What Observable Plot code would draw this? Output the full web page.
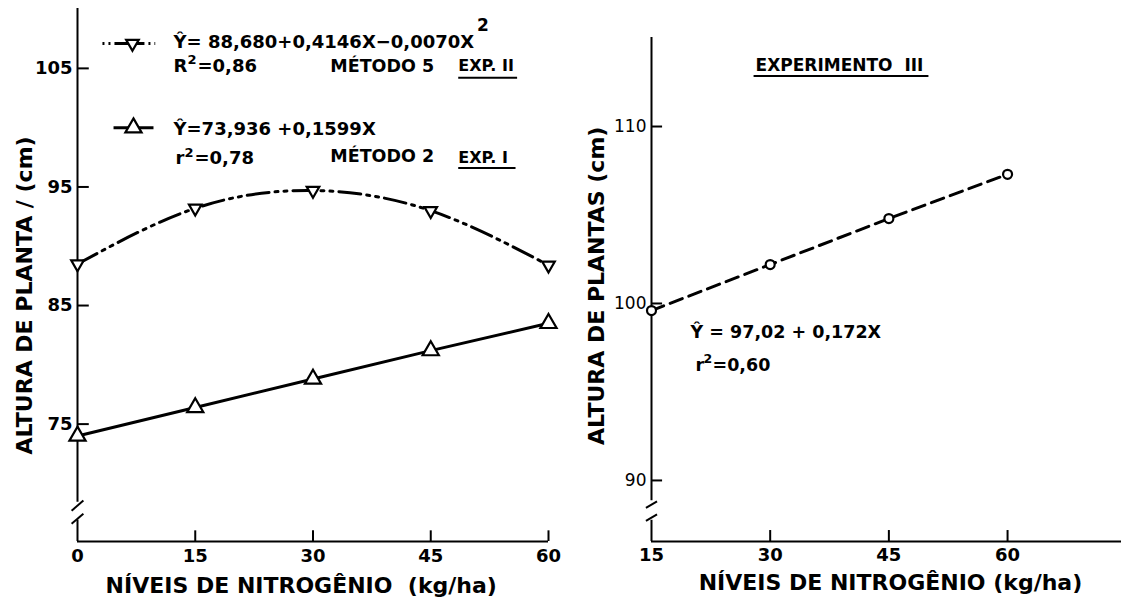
<!DOCTYPE html>
<html><head><meta charset="utf-8">
<script src="https://cdn.jsdelivr.net/npm/d3@7"></script>
<script src="https://cdn.jsdelivr.net/npm/@observablehq/plot@0.6"></script>
<style>
body{margin:0;background:#fff;}
#wrap{position:relative;width:1121px;height:604px;overflow:hidden;background:#fff;}
#left,#right{position:absolute;top:0;}
#left{left:0;} #right{left:560px;}
</style></head><body><div id="wrap"><div id="left"></div><div id="right"></div></div>
<script>
// ---- data ----
const nitrogenio = [0, 15, 30, 45, 60];
const alturaExpII = [88.5, 93.2, 94.7, 93.0, 88.4];   // Método 5 (▽)
const alturaExpI = [74.0, 76.4, 78.8, 81.2, 83.5];    // Método 2 (△)
const nitrogenioExpIII = [15, 30, 45, 60];
const alturaExpIII = [99.6, 102.2, 104.8, 107.3];     // Experimento III (○)
const leftXTicks = [0, 15, 30, 45, 60];
const leftYTicks = [75, 85, 95, 105];
const rightXTicks = [15, 30, 45, 60];
const rightYTicks = [90, 100, 110];

const expII = nitrogenio.map((n, i) => ({n, h: alturaExpII[i]}));
const expI = nitrogenio.map((n, i) => ({n, h: alturaExpI[i]}));
const expIII = nitrogenioExpIII.map((n, i) => ({n, h: alturaExpIII[i]}));

const FONT = "'DejaVu Sans', sans-serif";
const triangleDown = {
  draw(context, size) {
    const s = Math.sqrt(size) * 0.6824, t = s / 2, u = s * Math.sqrt(3) / 2;
    context.moveTo(0, s); context.lineTo(u, -t); context.lineTo(-u, -t); context.closePath();
  }
};
const B = {textAnchor: "start", fontWeight: "bold", fontSize: 18};

// ---- left panel ----
const L = {x0: 0, x1: 60, yb: 65.1, yt: 110.05};
const left = Plot.plot({
  width: 560, height: 604,
  marginLeft: 77, marginRight: 12, marginTop: 8, marginBottom: 63,
  style: {fontFamily: FONT, fontSize: "18px", color: "black", background: "white", overflow: "visible"},
  x: {domain: [L.x0, L.x1], axis: null},
  y: {domain: [L.yb, L.yt], axis: null},
  marks: [
    // axes
    Plot.ruleX([0], {y1: L.yt, y2: 68.4, strokeWidth: 2}),
    Plot.ruleX([0], {y1: 66.9, y2: L.yb, strokeWidth: 2}),
    Plot.link([{a: -0.75, b: 67.7, c: 0.75, d: 68.55}, {a: -0.75, b: 66.6, c: 0.75, d: 67.45}],
      {x1: "a", y1: "b", x2: "c", y2: "d", strokeWidth: 2}),
    Plot.ruleY([L.yb], {x1: 0, x2: 60, strokeWidth: 2}),
    Plot.ruleX(leftXTicks.slice(1), {x: d => d, y1: L.yb, y2: 66.0, strokeWidth: 2}),
    Plot.ruleY(leftYTicks, {y: d => d, x1: 0, x2: 1.5, strokeWidth: 2}),
    Plot.text(leftYTicks, {x: 0, y: d => d, text: d => String(d), textAnchor: "end", dx: -5, fontWeight: "bold", fontSize: 18}),
    Plot.text(leftXTicks, {x: d => d, y: L.yb, text: d => String(d), dy: 15, fontWeight: "bold", fontSize: 18}),
    Plot.text(["NÍVEIS DE NITROGÊNIO  (kg/ha)"], {x: 28.5, y: L.yb, dy: 44, fontWeight: "bold", fontSize: 22}),
    Plot.text(["ALTURA DE PLANTA / (cm)"], {x: -6.75, y: 85.85, rotate: -90, fontWeight: "bold", fontSize: 22}),
    // data
    Plot.line(expII, {x: "n", y: "h", curve: "natural", strokeWidth: 3, strokeDasharray: "22,6,3,6,3,6"}),
    Plot.line(expI, {x: "n", y: "h", strokeWidth: 3}),
    Plot.dot(expII, {x: "n", y: "h", symbol: triangleDown, r: 6, stroke: "black", fill: "white", strokeWidth: 2.2}),
    Plot.dot(expI, {x: "n", y: "h", symbol: "triangle", r: 6, stroke: "black", fill: "white", strokeWidth: 2.2}),
    // legend / annotations
    Plot.link([{a: 3.18, b: 7.0}], {x1: "a", x2: "b", y1: 107.1, y2: 107.1, strokeWidth: 2.8, strokeDasharray: "2,4,2,4,20"}),
    Plot.link([{a: 7.0, b: 9.9}], {x1: "a", x2: "b", y1: 107.1, y2: 107.1, strokeWidth: 2.8, strokeDasharray: "12,4,2,4,2,4"}),
    Plot.dot([{n: 7.0, h: 107.1}], {x: "n", y: "h", symbol: triangleDown, r: 6, stroke: "black", fill: "white", strokeWidth: 2.2}),
    Plot.link([{a: 4.59, b: 9.68}], {x1: "a", x2: "b", y1: 100.0, y2: 100.0, strokeWidth: 3}),
    Plot.dot([{n: 7.13, h: 100.0}], {x: "n", y: "h", symbol: "triangle", r: 6, stroke: "black", fill: "white", strokeWidth: 2.2}),
    Plot.text(["Ŷ= 88,680+0,4146X−0,0070X"], {...B, x: 12.23, y: 107.18}),
    Plot.text(["2"], {x: 51.65, y: 108.6, textAnchor: "middle", fontWeight: "bold", fontSize: 17}),
    Plot.text(["R"], {...B, x: 12.23, y: 105.2}),
    Plot.text(["2"], {...B, x: 12.23, y: 105.2, dx: 14, dy: -6, fontSize: 13}),
    Plot.text(["=0,86"], {...B, x: 12.23, y: 105.2, dx: 24}),
    Plot.text(["MÉTODO 5"], {...B, x: 32.2, y: 105.2, fontSize: 17.5}),
    Plot.text(["EXP. II"], {...B, x: 48.5, y: 105.2, fontSize: 16}),
    Plot.link([{a: 48.5, b: 56.0}], {x1: "a", x2: "b", y1: 104.2, y2: 104.2, strokeWidth: 2}),
    Plot.text(["Ŷ=73,936 +0,1599X"], {...B, x: 12.23, y: 99.9}),
    Plot.text(["r"], {...B, x: 12.48, y: 97.4}),
    Plot.text(["2"], {...B, x: 12.48, y: 97.4, dx: 9, dy: -6, fontSize: 13}),
    Plot.text(["=0,78"], {...B, x: 12.48, y: 97.4, dx: 19}),
    Plot.text(["MÉTODO 2"], {...B, x: 32.2, y: 97.55, fontSize: 17.5}),
    Plot.text(["EXP. I"], {...B, x: 48.5, y: 97.45, fontSize: 16}),
    Plot.link([{a: 48.5, b: 55.8}], {x1: "a", x2: "b", y1: 96.6, y2: 96.6, strokeWidth: 2})
  ]
});
document.getElementById("left").append(left);

// ---- right panel ----
const R = {x0: 15, x1: 74.4, yb: 86.55, yt: 115.03};
const right = Plot.plot({
  width: 561, height: 604,
  marginLeft: 91, marginRight: 0, marginTop: 37, marginBottom: 63,
  style: {fontFamily: FONT, fontSize: "18px", color: "black", background: "transparent", overflow: "visible"},
  x: {domain: [R.x0, R.x1], axis: null},
  y: {domain: [R.yb, R.yt], axis: null},
  marks: [
    Plot.ruleX([15], {y1: R.yt, y2: 88.85, strokeWidth: 2}),
    Plot.ruleX([15], {y1: 87.75, y2: R.yb, strokeWidth: 2}),
    Plot.link([{a: 14.3, b: 88.45, c: 15.7, d: 88.82}, {a: 14.3, b: 87.72, c: 15.7, d: 88.08}],
      {x1: "a", y1: "b", x2: "c", y2: "d", strokeWidth: 2}),
    Plot.ruleY([R.yb], {x1: 15, x2: R.x1, strokeWidth: 2}),
    Plot.ruleX(rightXTicks.slice(1), {x: d => d, y1: R.yb, y2: 87.17, strokeWidth: 2}),
    Plot.ruleY(rightYTicks, {y: d => d, x1: 15, x2: 16.4, strokeWidth: 2}),
    Plot.text(rightYTicks, {x: 15, y: d => d, text: d => String(d), textAnchor: "end", dx: -5, fontSize: 17}),
    Plot.text(rightXTicks, {x: d => d, y: R.yb, text: d => String(d), dy: 14, fontWeight: "bold", fontSize: 18}),
    Plot.text(["NÍVEIS DE NITROGÊNIO (kg/ha)"], {x: 45.2, y: R.yb, dy: 41, fontWeight: "bold", fontSize: 22}),
    Plot.text(["ALTURA DE PLANTAS (cm)"], {x: 8.05, y: 101.0, rotate: -90, fontWeight: "bold", fontSize: 22}),
    Plot.line(expIII, {x: "n", y: "h", strokeWidth: 3, strokeDasharray: "13,7"}),
    Plot.dot(expIII, {x: "n", y: "h", r: 4.5, stroke: "black", fill: "white", strokeWidth: 2.2}),
    Plot.text(["EXPERIMENTO  III"], {...B, x: 28.15, y: 113.45, fontSize: 17}),
    Plot.link([{a: 27.9, b: 50.0}], {x1: "a", x2: "b", y1: 112.86, y2: 112.86, strokeWidth: 2}),
    Plot.text(["Ŷ = 97,02 + 0,172X"], {...B, x: 19.93, y: 98.36, fontSize: 17.5}),
    Plot.text(["r"], {...B, x: 20.56, y: 96.5, fontSize: 17.5}),
    Plot.text(["2"], {...B, x: 20.56, y: 96.5, dx: 8, dy: -6, fontSize: 12.5}),
    Plot.text(["=0,60"], {...B, x: 20.56, y: 96.5, dx: 17, fontSize: 17.5})
  ]
});
document.getElementById("right").append(right);
</script></body></html>
